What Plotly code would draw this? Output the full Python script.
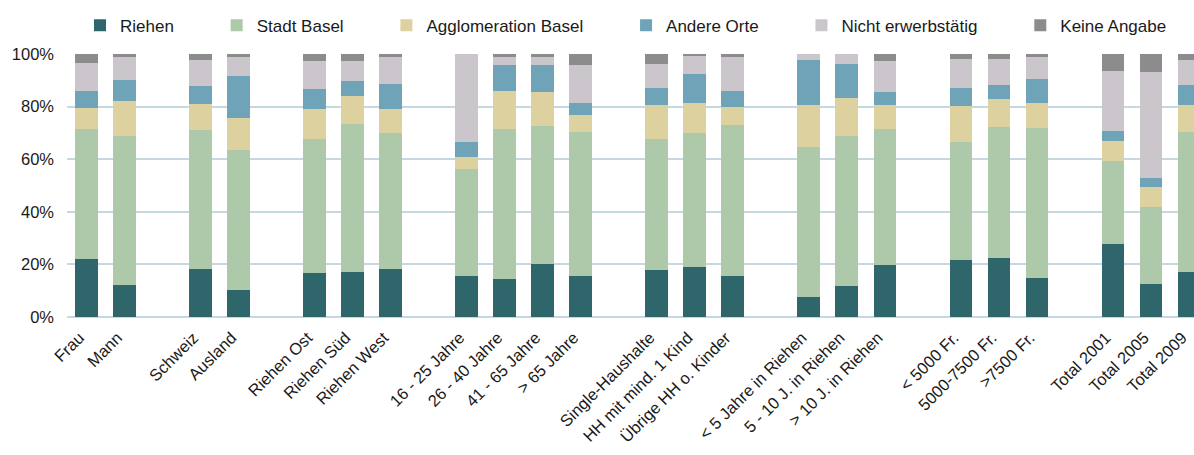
import plotly.graph_objects as go

# ---- data ----
groups = [
    ["Frau", "Mann"],
    ["Schweiz", "Ausland"],
    ["Riehen Ost", "Riehen Süd", "Riehen West"],
    ["16 - 25 Jahre", "26 - 40 Jahre", "41 - 65 Jahre", "> 65 Jahre"],
    ["Single-Haushalte", "HH mit mind. 1 Kind", "Übrige HH o. Kinder"],
    ["< 5 Jahre in Riehen", "5 - 10 J. in Riehen", "> 10 J. in Riehen"],
    ["< 5000 Fr.", "5000-7500 Fr.", ">7500 Fr."],
    ["Total 2001", "Total 2005", "Total 2009"],
]

riehen = [22.0, 12.1, 18.1, 10.2, 16.6, 17.0, 18.1, 15.5, 14.3, 20.1, 15.5,
          17.8, 18.9, 15.5, 7.5, 11.7, 19.7, 21.6, 22.3, 14.7, 27.7, 12.4, 17.0]
stadt_basel = [49.4, 56.7, 53.0, 53.3, 51.0, 56.4, 51.8, 40.7, 57.1, 52.5, 54.8,
               49.8, 51.0, 57.5, 57.1, 57.1, 51.7, 44.9, 49.9, 57.1, 31.6, 29.4, 53.3]
agglomeration = [8.0, 13.3, 9.9, 12.1, 11.5, 10.6, 9.2, 4.6, 14.5, 12.9, 6.5,
                 13.0, 11.4, 6.8, 16.0, 14.4, 9.2, 13.7, 10.7, 9.5, 7.6, 7.6, 10.3]
andere_orte = [6.5, 8.0, 6.8, 16.0, 7.6, 5.7, 9.5, 5.7, 9.9, 10.3, 4.5,
               6.5, 11.1, 6.1, 17.1, 13.0, 4.9, 6.9, 5.3, 9.2, 3.8, 3.4, 7.6]
nicht_erwerbstaetig = [10.7, 8.8, 9.9, 7.3, 10.6, 7.6, 10.3, 33.5, 3.1, 3.1, 14.5,
                       9.1, 6.8, 13.0, 2.3, 3.8, 11.8, 11.0, 9.9, 8.4, 22.8, 40.3, 9.5]
keine_angabe = [3.4, 1.1, 2.3, 1.1, 2.7, 2.7, 1.1, 0.0, 1.1, 1.1, 4.2,
                3.8, 0.8, 1.1, 0.0, 0.0, 2.7, 1.9, 1.9, 1.1, 6.5, 6.9, 2.3]

series_names = ["Riehen", "Stadt Basel", "Agglomeration Basel", "Andere Orte",
                "Nicht erwerbstätig", "Keine Angabe"]
series_values = [riehen, stadt_basel, agglomeration, andere_orte,
                 nicht_erwerbstaetig, keine_angabe]
series_colors = ["#2f666b", "#aec9a9", "#ddd19f", "#6fa3b7", "#cbc6cc", "#8c8c8c"]

# ---- positions: one empty slot between groups ----
categories, xpos = [], []
slot = 0
for g in groups:
    for c in g:
        categories.append(c)
        xpos.append(slot)
        slot += 1
    slot += 1

PAD = "\u00a0" * 8  # widen the gap between legend entries
FONT = "Liberation Sans, Arial, sans-serif"
fig = go.Figure()
n = len(series_names)
for i, (name, vals, col) in enumerate(zip(series_names, series_values, series_colors)):
    label = name + (PAD if i < n - 1 else "")
    fig.add_trace(go.Bar(
        x=xpos, y=vals, name=label, marker=dict(color=col, line=dict(width=0)),
        width=0.6, hovertext=categories,
    ))

fig.update_layout(
    barmode="stack",
    width=1194, height=455,
    margin=dict(l=67, r=0, t=54, b=138),
    plot_bgcolor="white", paper_bgcolor="white",
    font=dict(family=FONT, size=16.5, color="#1a1a1a"),
    legend=dict(orientation="h", xref="container", x=80 / 1194, xanchor="left",
                yref="container", y=0.983, yanchor="top",
                font=dict(size=17), itemwidth=30, traceorder="normal"),
    xaxis=dict(
        range=[-0.513, 29.13], automargin=False,
        tickvals=xpos, ticktext=categories, tickangle=-45,
        showgrid=False, zeroline=False, showline=False, ticks="",
        ticklabelstandoff=7, ticklabelshift=-7, ticklabeloverflow="allow",
    ),
    yaxis=dict(
        range=[0, 100], automargin=False, tickvals=[0, 20, 40, 60, 80, 100],
        ticktext=["0%", "20%", "40%", "60%", "80%", "100%"],
        showgrid=True, gridcolor="#c5d7df", gridwidth=1.5,
        zeroline=True, zerolinecolor="#c5d7df", zerolinewidth=1.5,
        ticks="", ticklabelstandoff=12,
    ),
)

# remove the browser's default page margin so the figure fills the window
fig.write_html(
    "out.html",
    config={"displayModeBar": False},
    post_script="document.body.style.margin='0';document.body.style.overflow='hidden';",
)
